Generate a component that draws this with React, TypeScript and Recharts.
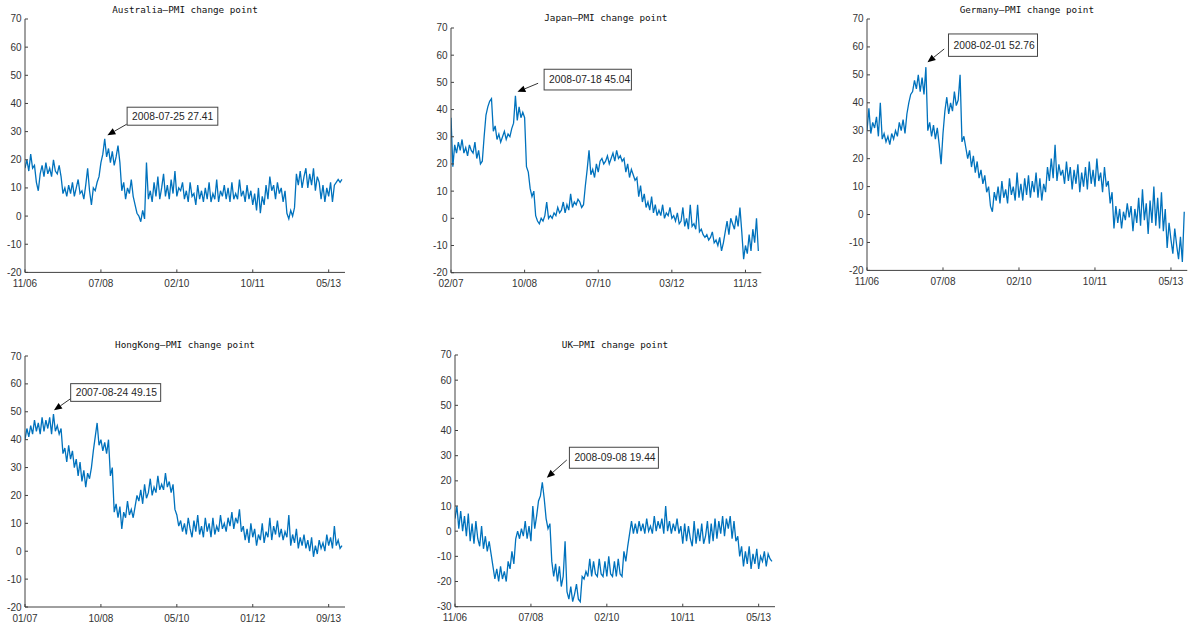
import React from "react";
import { LineChart, Line, XAxis, YAxis, ReferenceDot } from "recharts";

// half-month sampling, 168 points per country
const MONTH_STEP = 0.5;
const X_MAX = 84.3;
const X_TICK_POS = [0, 20, 40, 60, 80];

const Y_TICKS = [-20, -10, 0, 10, 20, 30, 40, 50, 60, 70];
const Y_TICKS_UK = [-30, -20, -10, 0, 10, 20, 30, 40, 50, 60, 70];

const AUS_X_LABELS = ["11/06", "07/08", "02/10", "10/11", "05/13"];
const JPN_X_LABELS = ["02/07", "10/08", "07/10", "03/12", "11/13"];
const DEU_X_LABELS = ["11/06", "07/08", "02/10", "10/11", "05/13"];
const HKG_X_LABELS = ["01/07", "10/08", "05/10", "01/12", "09/13"];
const GBR_X_LABELS = ["11/06", "07/08", "02/10", "10/11", "05/13"];

const AUS_PMI = [
  17, 20, 16, 22, 17, 18, 12, 9, 15, 18, 14, 19,
  15, 17, 14, 20, 16, 15, 18, 14, 8, 10, 7, 11,
  8, 12, 7, 10, 13, 8, 9, 6, 11, 17, 9, 4,
  10, 9, 12, 14, 19, 22, 27.41, 21, 24, 19, 23, 18,
  21, 25, 19, 9, 12, 6, 10, 8, 13, 7, 4, 1,
  0, -2, 2, -1, 19, 6, 9, 5, 12, 7, 14, 6,
  10, 15, 7, 11, 6, 13, 8, 16, 7, 10, 9, 12,
  6, 9, 5, 12, 7, 8, 4, 11, 6, 9, 5, 10,
  6, 12, 5, 8, 6, 13, 5, 9, 7, 11, 6, 10,
  5, 12, 6, 8, 6, 13, 7, 9, 5, 11, 6, 9,
  4, 8, 2, 10, 1, 7, 4, 11, 6, 14, 9, 11,
  6, 12, 8, 10, 5, 9, 1, -1, 2, 0, 3, 15,
  11, 16, 10, 14, 17, 10, 15, 11, 17, 9, 14, 12,
  6, 11, 5, 10, 7, 12, 5, 11, 12, 13, 12, 13,
];

const JPN_PMI = [
  37, 19, 27, 24, 28, 25, 29, 24, 26, 23, 27, 25,
  24, 28, 22, 25, 20, 21, 30, 38, 41, 43, 44, 32,
  34, 29, 31, 28, 30, 32, 29, 31, 30, 33, 35, 45.04,
  36, 41, 37, 39, 37, 19, 17, 11, 8, 10, 1, -1,
  -2, 0, -1, 1, 6, 0, 1, 0, 2, 1, 4, 2,
  3, 6, 2, 5, 3, 9, 4, 6, 5, 7, 6, 4,
  5, 12, 18, 25, 16, 18, 15, 20, 17, 21, 22, 20,
  21, 23, 20, 22, 24, 21, 25, 22, 23, 21, 22, 17,
  20, 15, 18, 16, 14, 15, 8, 12, 6, 9, 4, 6,
  3, 8, 2, 5, 1, 3, 1, 5, 0, 2, 1, 4,
  0, 1, -1, 2, -2, -1, 4, -3, 0, -4, 5, -3,
  -2, -4, 5, -5, -4, -6, -7, -6, -8, -7, -5, -9,
  -8, -10, -7, -12, -9, -5, -1, -6, 0, -2, -4, 1,
  -3, 4, -5, -15, -10, -13, -6, -12, -4, -9, 0, -12,
];

const DEU_PMI = [
  30, 38, 29, 33, 31, 35, 28, 40, 27, 29, 26, 28,
  25, 29, 27, 30, 28, 33, 30, 34, 29, 36, 40, 43,
  44, 48, 45, 50, 44, 49, 43, 52.76, 30, 33, 28, 32,
  27, 31, 25, 18, 29, 37, 42, 36, 40, 37, 44, 39,
  41, 50, 26, 28, 24, 20, 23, 17, 21, 15, 19, 13,
  16, 11, 14, 8, 10, 3, 1, 8, 5, 10, 4, 12,
  6, 9, 4, 13, 7, 10, 5, 15, 6, 11, 5, 13,
  7, 14, 6, 12, 8, 15, 6, 13, 5, 11, 8, 17,
  12, 20, 13, 25, 12, 18, 14, 16, 11, 19, 12, 17,
  9, 16, 11, 18, 8, 15, 10, 17, 9, 19, 11, 16,
  10, 20, 12, 15, 8, 17, 10, 12, 4, 8, -5, 3,
  -3, 2, -5, 1, -2, 4, -1, 3, -6, 2, -3, 6,
  -4, 9, -2, 4, -7, 5, -3, 10, -4, 6, -5, 8,
  -6, 2, -12, -3, -9, -14, -5, -11, -16, -8, -17, 1,
];

const HKG_PMI = [
  40, 44, 41, 45, 42, 47, 43, 46, 42, 48, 43, 47,
  44, 48, 42, 49.15, 43, 45, 42, 44, 35, 37, 32, 38,
  33, 36, 30, 33, 27, 32, 25, 29, 23, 28, 26, 30,
  36, 41, 46, 38, 40, 36, 39, 35, 40, 27, 30, 14,
  17, 12, 16, 8, 14, 12, 18, 13, 15, 12, 16, 20,
  18, 22, 17, 24, 19, 21, 26, 20, 23, 21, 27, 22,
  24, 22, 28, 23, 25, 21, 24, 15, 13, 9, 11, 7,
  10, 6, 12, 8, 5, 11, 7, 13, 6, 9, 5, 12,
  7, 10, 5, 12, 6, 9, 7, 13, 8, 10, 7, 12,
  9, 14, 8, 12, 10, 15, 7, 9, 4, 8, 3, 10,
  5, 8, 2, 6, 4, 10, 3, 7, 5, 12, 4, 9,
  6, 11, 5, 8, 4, 7, 5, 13, 2, 6, 3, 8,
  1, 5, 2, 6, 1, 4, 0, 5, -2, 2, -1, 4,
  1, 3, 0, 6, 2, 5, 1, 9, 2, 4, 1, 2,
];

const GBR_PMI = [
  5, 10, 1, 8, 0, 6, -2, 7, -4, 3, -5, 4,
  -3, -6, 2, -7, -2, -8, -4, -9, -14, -19, -15, -20,
  -14, -19, -16, -20, -12, -15, -8, -13, -3, 0, -3, 1,
  -2, 4, -3, 2, -4, 10, 1, 6, 12, 14, 19.44, 13,
  5, 1, 3, -12, -18, -13, -20, -14, -22, -18, -4, -24,
  -27, -22, -28, -25, -21, -27, -28, -18, -19, -16, -18, -11,
  -18, -12, -17, -18, -11, -17, -18, -12, -18, -10, -17, -18,
  -12, -18, -11, -17, -18, -8, -12, -6, -1, 4, -1, 3,
  -1, 4, 0, 3, -1, 5, 0, 2, -1, 6, 0, 4,
  1, 5, -1, 10, 0, 4, -1, 3, 0, 5, -1, 2,
  -5, 3, -4, 2, -3, -6, 4, -5, 1, -4, 3, -5,
  -2, 4, -5, 3, -4, 5, -3, 4, -1, 6, -2, 5,
  1, 6, -3, 4, -4, -2, -10, -6, -14, -8, -13, -6,
  -15, -9, -13, -7, -15, -10, -12, -8, -14, -9, -11, -12,
];

const LINE_COLOR = "#0072BD";
const AXIS_COLOR = "#404040";
const TICK_FONT = "'Liberation Sans', Arial, sans-serif";

type Callout = {
  tipDx: number; tipDy: number;
  tailDx: number; tailDy: number;
  boxDx: number; boxDy: number;
  boxW: number; boxH: number;
};

type PanelProps = {
  title: string;
  values: number[];
  xLabels: string[];
  yTicks: number[];
  peakIndex: number;
  peakLabel: string;
  rect: { l: number; t: number; r: number; b: number };
  titleY: number;
  callout: Callout;
};

function CalloutMark({ cx, cy, c, label }: { cx: number; cy: number; c: Callout; label: string }) {
  if (cx == null || cy == null) return null;
  const tipX = cx + c.tipDx;
  const tipY = cy + c.tipDy;
  const tailX = cx + c.tailDx;
  const tailY = cy + c.tailDy;
  const ang = Math.atan2(tipY - tailY, tipX - tailX);
  const hl = 8;
  const hw = 3.4;
  const bx = tipX - hl * Math.cos(ang);
  const by = tipY - hl * Math.sin(ang);
  const pts = [
    `${tipX},${tipY}`,
    `${bx + hw * Math.sin(ang)},${by - hw * Math.cos(ang)}`,
    `${bx - hw * Math.sin(ang)},${by + hw * Math.cos(ang)}`,
  ].join(" ");
  const rx = cx + c.boxDx;
  const ry = cy + c.boxDy;
  return (
    <g>
      <line x1={tailX} y1={tailY} x2={bx} y2={by} stroke="#000" strokeWidth={0.8} />
      <polygon points={pts} fill="#000" />
      <rect x={rx} y={ry} width={c.boxW} height={c.boxH} fill="#fff" stroke="#444" strokeWidth={1} />
      <text
        x={rx + 5}
        y={ry + c.boxH / 2}
        dominantBaseline="central"
        fontSize={10.3}
        fontFamily={TICK_FONT}
        fill="#262626"
      >
        {label}
      </text>
    </g>
  );
}

function Panel({ title, values, xLabels, yTicks, peakIndex, peakLabel, rect, titleY, callout }: PanelProps) {
  const data = values.map((v, i) => ({ t: i * MONTH_STEP, v }));
  const peak = data[peakIndex];
  const yAxisW = 30;
  const mTop = 8;
  const xAxisH = 22;
  const w = rect.r - rect.l + yAxisW + 2;
  const h = rect.b - rect.t + mTop + xAxisH;

  return (
    <>
      <div
        style={{
          position: "absolute",
          left: (rect.l + rect.r) / 2 - 120,
          width: 240,
          top: titleY - 6,
          height: 12,
          lineHeight: "12px",
          textAlign: "center",
          fontFamily: "'DejaVu Sans Mono', monospace",
          fontSize: 9.3,
          color: "#111",
          whiteSpace: "nowrap",
        }}
      >
        {title}
      </div>
      <div style={{ position: "absolute", left: rect.l - yAxisW, top: rect.t - mTop }}>
        <LineChart width={w} height={h} data={data} margin={{ top: mTop, right: 2, bottom: 0, left: 0 }}>
          <XAxis
            type="number"
            dataKey="t"
            domain={[0, X_MAX]}
            ticks={X_TICK_POS}
            interval={0}
            height={xAxisH}
            tickSize={0}
            tickMargin={0}
            tickLine={false}
            axisLine={{ stroke: AXIS_COLOR }}
            allowDataOverflow
            tick={(p: any) => {
              const idx = X_TICK_POS.indexOf(p.payload.value);
              return (
                <g>
                  <line x1={p.x} x2={p.x} y1={p.y} y2={p.y - 3} stroke={AXIS_COLOR} />
                  <text
                    x={p.x}
                    y={p.y + 11}
                    textAnchor="middle"
                    dominantBaseline="central"
                    fontSize={10}
                    fontFamily={TICK_FONT}
                    fill="#333"
                  >
                    {xLabels[idx]}
                  </text>
                </g>
              );
            }}
          />
          <YAxis
            type="number"
            domain={[yTicks[0], yTicks[yTicks.length - 1]]}
            ticks={yTicks}
            interval={0}
            width={yAxisW}
            tickSize={0}
            tickMargin={0}
            tickLine={false}
            axisLine={{ stroke: AXIS_COLOR }}
            tick={(p: any) => (
              <g>
                <line x1={p.x} x2={p.x + 3} y1={p.y} y2={p.y} stroke={AXIS_COLOR} />
                <text
                  x={p.x - 3.5}
                  y={p.y}
                  textAnchor="end"
                  dominantBaseline="central"
                  fontSize={10}
                  fontFamily={TICK_FONT}
                  fill="#333"
                >
                  {p.payload.value}
                </text>
              </g>
            )}
          />
          <Line
            type="linear"
            dataKey="v"
            stroke={LINE_COLOR}
            strokeWidth={1.3}
            dot={false}
            isAnimationActive={false}
          />
          <ReferenceDot
            x={peak.t}
            y={peak.v}
            r={0}
            shape={(p: any) => <CalloutMark cx={p.cx} cy={p.cy} c={callout} label={peakLabel} />}
          />
        </LineChart>
      </div>
    </>
  );
}

export default function App() {
  return (
    <div style={{ position: "absolute", left: 0, top: 0, width: 1189, height: 628, background: "#fff" }}>
      <Panel
        title="Australia—PMI change point"
        values={AUS_PMI}
        xLabels={AUS_X_LABELS}
        yTicks={Y_TICKS}
        peakIndex={42}
        peakLabel="2008-07-25 27.41"
        rect={{ l: 25, t: 19.3, r: 345, b: 272.7 }}
        titleY={9.5}
        callout={{ tipDx: 2.7, tipDy: -3.7, tailDx: 22, tailDy: -14.7, boxDx: 22.4, boxDy: -31.7, boxW: 90.7, boxH: 18 }}
      />
      <Panel
        title="Japan—PMI change point"
        values={JPN_PMI}
        xLabels={JPN_X_LABELS}
        yTicks={Y_TICKS}
        peakIndex={35}
        peakLabel="2008-07-18 45.04"
        rect={{ l: 450.7, t: 28, r: 761, b: 272.7 }}
        titleY={17.5}
        callout={{ tipDx: 2, tipDy: -4, tailDx: 22.7, tailDy: -12.6, boxDx: 28.7, boxDy: -26.6, boxW: 87.3, boxH: 20.7 }}
      />
      <Panel
        title="Germany—PMI change point"
        values={DEU_PMI}
        xLabels={DEU_X_LABELS}
        yTicks={Y_TICKS}
        peakIndex={31}
        peakLabel="2008-02-01 52.76"
        rect={{ l: 866.7, t: 19.3, r: 1187, b: 270.7 }}
        titleY={9.5}
        callout={{ tipDx: 1.6, tipDy: -4.8, tailDx: 18.3, tailDy: -18.2, boxDx: 22.6, boxDy: -33.2, boxW: 89, boxH: 22.4 }}
      />
      <Panel
        title="HongKong—PMI change point"
        values={HKG_PMI}
        xLabels={HKG_X_LABELS}
        yTicks={Y_TICKS}
        peakIndex={15}
        peakLabel="2007-08-24 49.15"
        rect={{ l: 25, t: 355.7, r: 345, b: 606.7 }}
        titleY={345}
        callout={{ tipDx: 0.5, tipDy: -3.8, tailDx: 17.2, tailDy: -15.5, boxDx: 17.2, boxDy: -30.5, boxW: 90, boxH: 17.7 }}
      />
      <Panel
        title="UK—PMI change point"
        values={GBR_PMI}
        xLabels={GBR_X_LABELS}
        yTicks={Y_TICKS_UK}
        peakIndex={46}
        peakLabel="2008-09-08 19.44"
        rect={{ l: 455, t: 355, r: 775, b: 606.7 }}
        titleY={345}
        callout={{ tipDx: 4.5, tipDy: -4.6, tailDx: 24.5, tailDy: -22.3, boxDx: 27.1, boxDy: -35, boxW: 89, boxH: 21 }}
      />
    </div>
  );
}
